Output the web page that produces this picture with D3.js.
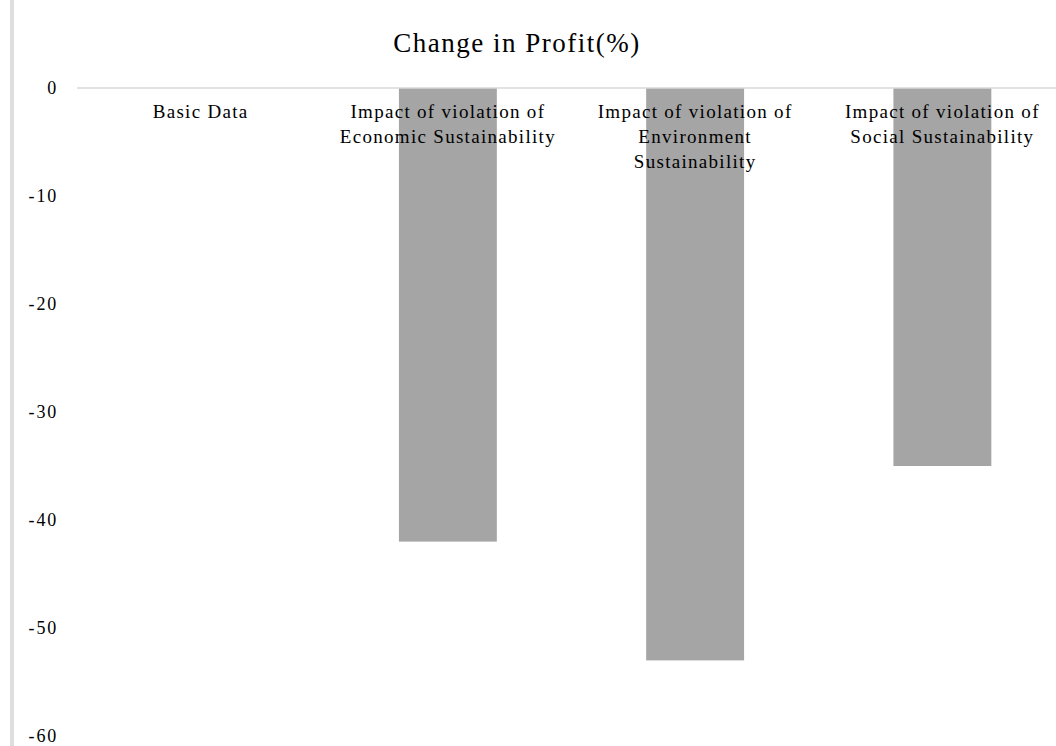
<!DOCTYPE html>
<html>
<head>
<meta charset="utf-8">
<script src="https://cdn.jsdelivr.net/npm/d3@7"></script>
<style>
  body { margin: 0; background: #fff; }
  text { font-family: "Liberation Serif", "Times New Roman", serif; fill: #000; }
</style>
</head>
<body>
<div id="chart"></div>
<script>
// Data
const categories = [
  "Basic Data",
  "Impact of violation of Economic Sustainability",
  "Impact of violation of Environment Sustainability",
  "Impact of violation of Social Sustainability"
];
const labelLines = [
  ["Basic Data"],
  ["Impact of violation of", "Economic Sustainability"],
  ["Impact of violation of", "Environment", "Sustainability"],
  ["Impact of violation of", "Social Sustainability"]
];
const values = [0, -42, -53, -35];
const yTicks = [0, -10, -20, -30, -40, -50, -60];

const width = 1056, height = 746;
const margin = { left: 77, right: -10, top: 88, bottom: 10 };

const svg = d3.select("#chart")
  .append("svg")
    .attr("width", width)
    .attr("height", height);

// Left border line
svg.append("rect")
  .attr("x", 10).attr("y", 0)
  .attr("width", 4).attr("height", height)
  .attr("fill", "#dedede");

// Scales
let x = d3.scaleBand()
  .domain(categories)
  .range([margin.left, width - margin.right])
  .paddingInner(0.604)
  .paddingOuter(0.302);

let y = d3.scaleLinear()
  .domain([-60, 0])
  .range([736, margin.top]);

// Bars
svg.selectAll(".bar")
  .data(categories)
  .enter().append("rect")
    .attr("class", "bar")
    .attr("x", d => x(d))
    .attr("width", x.bandwidth())
    .attr("y", (d, i) => y(Math.max(0, values[i])))
    .attr("height", (d, i) => Math.abs(y(values[i]) - y(0)))
    .attr("fill", "#a5a5a5");

// Zero line
svg.append("line")
  .attr("x1", margin.left).attr("x2", width)
  .attr("y1", y(0)).attr("y2", y(0))
  .attr("stroke", "#d9d9d9")
  .attr("stroke-width", 1.5);

// Y-Axis labels
svg.selectAll(".ytick")
  .data(yTicks)
  .enter().append("text")
    .attr("class", "ytick")
    .attr("x", 58)
    .attr("y", d => y(d))
    .attr("dy", "0.35em")
    .style("text-anchor", "end")
    .style("font-size", "18px")
    .style("letter-spacing", "1.8px")
    .text(d => d);

// Category labels (below zero line)
const catLabels = svg.selectAll(".cat")
  .data(categories)
  .enter().append("text")
    .attr("class", "cat")
    .style("text-anchor", "middle")
    .style("font-size", "19px")
    .style("letter-spacing", "1.3px");

catLabels.each(function(d, i) {
  const cx = x(d) + x.bandwidth() / 2;
  d3.select(this).selectAll("tspan")
    .data(labelLines[i])
    .enter().append("tspan")
      .attr("x", cx)
      .attr("y", (t, j) => 118 + j * 25)
      .text(t => t);
});

// Graph Title
svg.append("text")
  .attr("x", 517)
  .attr("y", 52)
  .style("text-anchor", "middle")
  .style("font-size", "27px")
  .style("letter-spacing", "1.5px")
  .text("Change in Profit(%)");
</script>
</body>
</html>
